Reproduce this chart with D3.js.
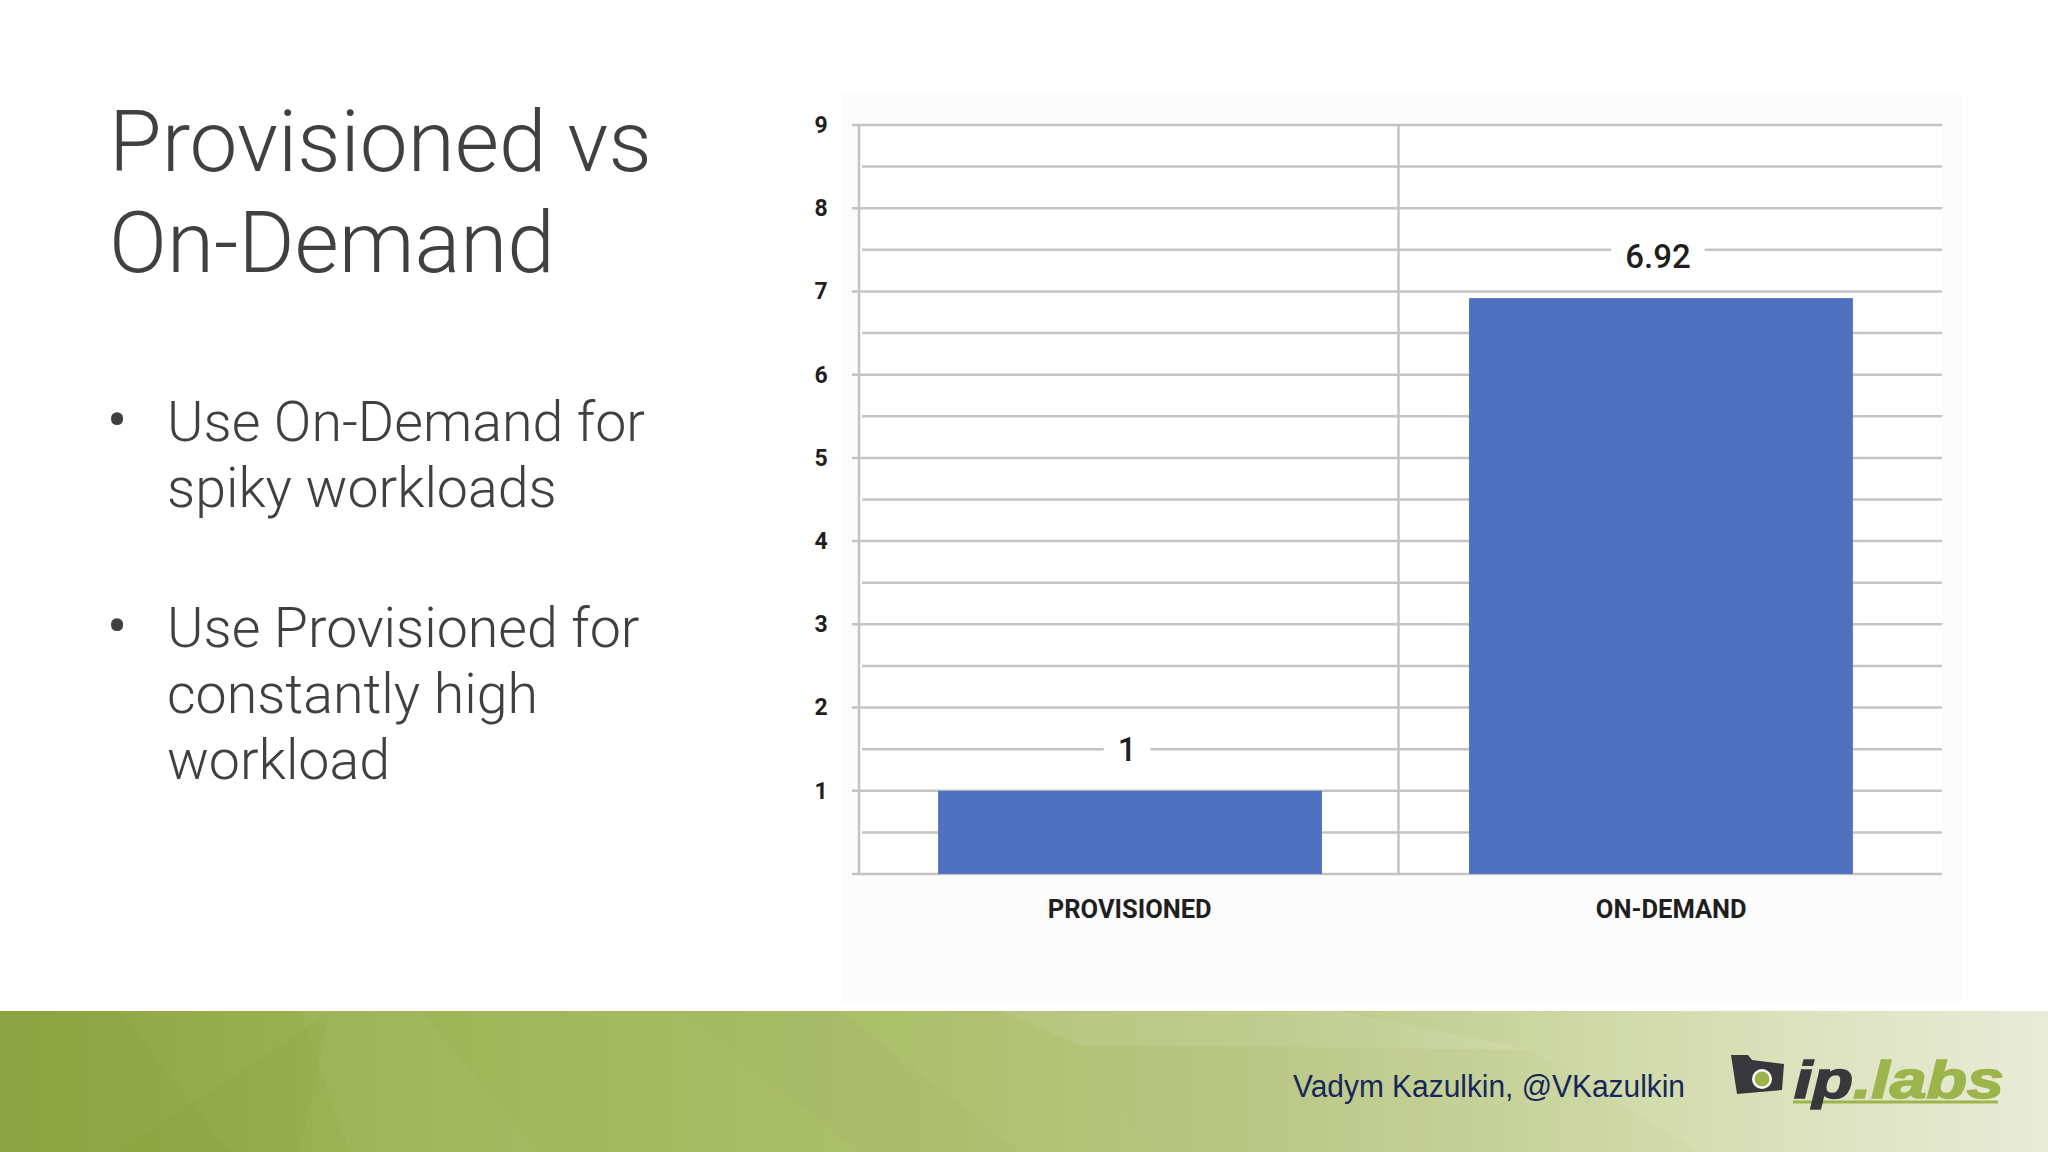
<!DOCTYPE html>
<html>
<head>
<meta charset="utf-8">
<script src="https://cdn.jsdelivr.net/npm/d3@7"></script>
<style>
  html, body { margin: 0; padding: 0; background: #ffffff; }
  svg { display: block; }
</style>
</head>
<body>
<script>
// ---- data ----
const titleLines = ["Provisioned vs", "On-Demand"];
const bullets = [
  ["Use On-Demand for", "spiky workloads"],
  ["Use Provisioned for", "constantly high", "workload"]
];
const categories = ["PROVISIONED", "ON-DEMAND"];
const values = [1, 6.92];
const valueLabels = ["1", "6.92"];
const yTickValues = [1, 2, 3, 4, 5, 6, 7, 8, 9];
const yMajorLines = [0, 1, 2, 3, 4, 5, 6, 7, 8, 9];
const yMinorLines = [0.5, 1.5, 2.5, 3.5, 4.5, 5.5, 6.5, 7.5, 8.5];
const yDomain = [0, 9];
const footerText = "Vadym Kazulkin, @VKazulkin";

// ---- layout ----
const W = 2048, H = 1152;
const svg = d3.select("body").append("svg").attr("width", W).attr("height", H);

// Footer band
const defs = svg.append("defs");
const fg = defs.append("linearGradient").attr("id", "footerGrad").attr("x1", "0").attr("x2", "1").attr("y1", "0").attr("y2", "0");
[["0", "#8da443"], ["0.2", "#9db556"], ["0.45", "#adc06c"], ["0.62", "#bac886"], ["0.8", "#d2dbab"], ["1", "#e9ecd9"]]
  .forEach(([o, c]) => fg.append("stop").attr("offset", o).attr("stop-color", c));
svg.append("rect").attr("x", 0).attr("y", 1011).attr("width", W).attr("height", H - 1011).attr("fill", "url(#footerGrad)");
// subtle facets
const facets = [
  {pts: [[0,1011],[120,1011],[230,1152],[0,1152]], c: "#86a03c", o: 0.25},
  {pts: [[300,1011],[420,1011],[540,1152],[350,1152]], c: "#ffffff", o: 0.04},
  {pts: [[330,1011],[120,1152],[300,1152]], c: "#8aa33d", o: 0.18},
  {pts: [[680,1011],[840,1011],[1020,1152],[860,1152]], c: "#9fb16a", o: 0.15},
  {pts: [[1000,1011],[1340,1011],[1530,1050],[1080,1045]], c: "#ffffff", o: 0.08},
  {pts: [[1080,1045],[1530,1050],[1700,1152],[1150,1152]], c: "#b7c489", o: 0.1}
];
facets.forEach(f => svg.append("polygon").attr("points", f.pts.map(p => p.join(",")).join(" ")).attr("fill", f.c).attr("opacity", f.o));

svg.append("text").attr("x", 1293).attr("y", 1097)
  .attr("font-family", "Liberation Sans, Arial, sans-serif").attr("font-size", 31)
  .attr("fill", "#17275a").attr("textLength", 392).attr("lengthAdjust", "spacingAndGlyphs")
  .text(footerText);

// Logo
const logo = svg.append("g");
logo.append("polygon").attr("points", "1731,1055 1748,1055 1752,1060 1784,1064 1782,1090 1737,1094")
  .attr("fill", "#37383c");
logo.append("circle").attr("cx", 1762).attr("cy", 1079).attr("r", 10).attr("fill", "#ffffff");
logo.append("circle").attr("cx", 1762).attr("cy", 1079).attr("r", 7.5).attr("fill", "#9bb54b");
logo.append("line").attr("x1", 1793).attr("x2", 1998).attr("y1", 1102).attr("y2", 1102)
  .attr("stroke", "#9bb54b").attr("stroke-width", 3);
const lt = logo.append("text").attr("x", 1794).attr("y", 1098)
  .attr("font-family", "Liberation Sans, Arial, sans-serif").attr("font-weight", 700).attr("font-style", "italic")
  .attr("font-size", 51).attr("textLength", 210).attr("lengthAdjust", "spacingAndGlyphs")
  .attr("stroke-width", 1.6);
lt.append("tspan").attr("fill", "#37383c").attr("stroke", "#37383c").text("ip");
lt.append("tspan").attr("fill", "#9bb54b").attr("stroke", "#9bb54b").text(".labs");

// Title
svg.append("g").selectAll("text").data(titleLines).join("text")
  .attr("x", 109).attr("y", (d, i) => 171 + i * 101)
  .attr("font-family", "Roboto, sans-serif").attr("font-weight", 300).attr("font-size", 85.5)
  .attr("fill", "#404040").text(d => d);

// Bullets
const bulletTop = [441, 647];
const lineH = 66;
bullets.forEach((lines, bi) => {
  svg.append("text").attr("x", 107).attr("y", bulletTop[bi])
    .attr("font-family", "Roboto, sans-serif").attr("font-size", 60).attr("fill", "#404040").text("•");
  svg.append("g").selectAll("text").data(lines).join("text")
    .attr("x", 167).attr("y", (d, i) => bulletTop[bi] + i * lineH)
    .attr("font-family", "Roboto, sans-serif").attr("font-weight", 300).attr("font-size", 55.5)
    .attr("fill", "#404040").text(d => d);
});

// ---- Chart ----
svg.append("rect").attr("x", 842).attr("y", 92).attr("width", 1120).attr("height", 912).attr("fill", "#fcfcfd");
const plotL = 859, plotR = 1932, gridR = 1942;
const y = d3.scaleLinear().domain(yDomain).range([874, 125]);
const x = d3.scaleBand().domain(categories).range([plotL, plotR]).paddingInner(0.277).paddingOuter(0.149);
const xLabel = d3.scaleBand().domain(categories).range([plotL, gridR]).padding(0);

const chart = svg.append("g");
chart.append("rect").attr("x", plotL).attr("y", y(9)).attr("width", gridR - plotL).attr("height", y(0) - y(9)).attr("fill", "#ffffff");

const gridColor = "#c3c3c3";
chart.append("g").selectAll("line").data(yMinorLines).join("line")
  .attr("x1", plotL + 3).attr("x2", gridR).attr("y1", d => y(d)).attr("y2", d => y(d))
  .attr("stroke", gridColor).attr("stroke-width", 2.5);
chart.append("g").selectAll("line").data(yMajorLines).join("line")
  .attr("x1", plotL - 7).attr("x2", gridR).attr("y1", d => y(d)).attr("y2", d => y(d))
  .attr("stroke", gridColor).attr("stroke-width", 2.5);

// vertical lines: left axis + category divider
const divX = (x(categories[0]) + x.bandwidth() + x(categories[1])) / 2 + 3;
chart.append("g").selectAll("line").data([plotL, divX]).join("line")
  .attr("x1", d => d).attr("x2", d => d).attr("y1", y(9)).attr("y2", y(0) + 1)
  .attr("stroke", gridColor).attr("stroke-width", 2.5);

// y axis labels
const yAxis = d3.axisLeft(y).tickValues(yTickValues).tickSize(0).tickPadding(0).tickFormat(d3.format("d"));
const gy = chart.append("g").attr("transform", `translate(${plotL - 38},0)`).call(yAxis);
gy.select(".domain").remove();
gy.selectAll("text").attr("text-anchor", "middle").attr("font-family", "Roboto, sans-serif")
  .attr("font-weight", 700).attr("font-size", 23).attr("fill", "#1f1f1f");

// bars
chart.append("g").selectAll("rect").data(values).join("rect")
  .attr("x", (d, i) => x(categories[i])).attr("width", x.bandwidth())
  .attr("y", d => y(d)).attr("height", d => y(0) - y(d))
  .attr("fill", "#5070c0");

// value labels with white background
const vl = chart.append("g").selectAll("g").data(values).join("g")
  .attr("transform", (d, i) => `translate(${x(categories[i]) + x.bandwidth() / 2 - 3},${y(d + 0.5)})`);
vl.append("text").attr("text-anchor", "middle").attr("dy", "0.36em")
  .attr("font-family", "Roboto, sans-serif").attr("font-weight", 500).attr("font-size", 33)
  .attr("fill", "#1f1f1f").text((d, i) => valueLabels[i]);
vl.each(function () {
  const g = d3.select(this);
  const bb = g.select("text").node().getBBox();
  g.insert("rect", "text").attr("x", bb.x - 14).attr("y", -10).attr("width", bb.width + 28).attr("height", 20).attr("fill", "#ffffff");
});

// x axis labels
const xAxis = d3.axisBottom(xLabel).tickSize(0).tickPadding(0);
const gx = chart.append("g").attr("transform", `translate(0,${y(0) + 44})`).call(xAxis);
gx.select(".domain").remove();
gx.selectAll("text").attr("dy", 0).attr("font-family", "Roboto, sans-serif")
  .attr("font-weight", 700).attr("font-size", 25.5).attr("fill", "#1f1f1f");
</script>
</body>
</html>
